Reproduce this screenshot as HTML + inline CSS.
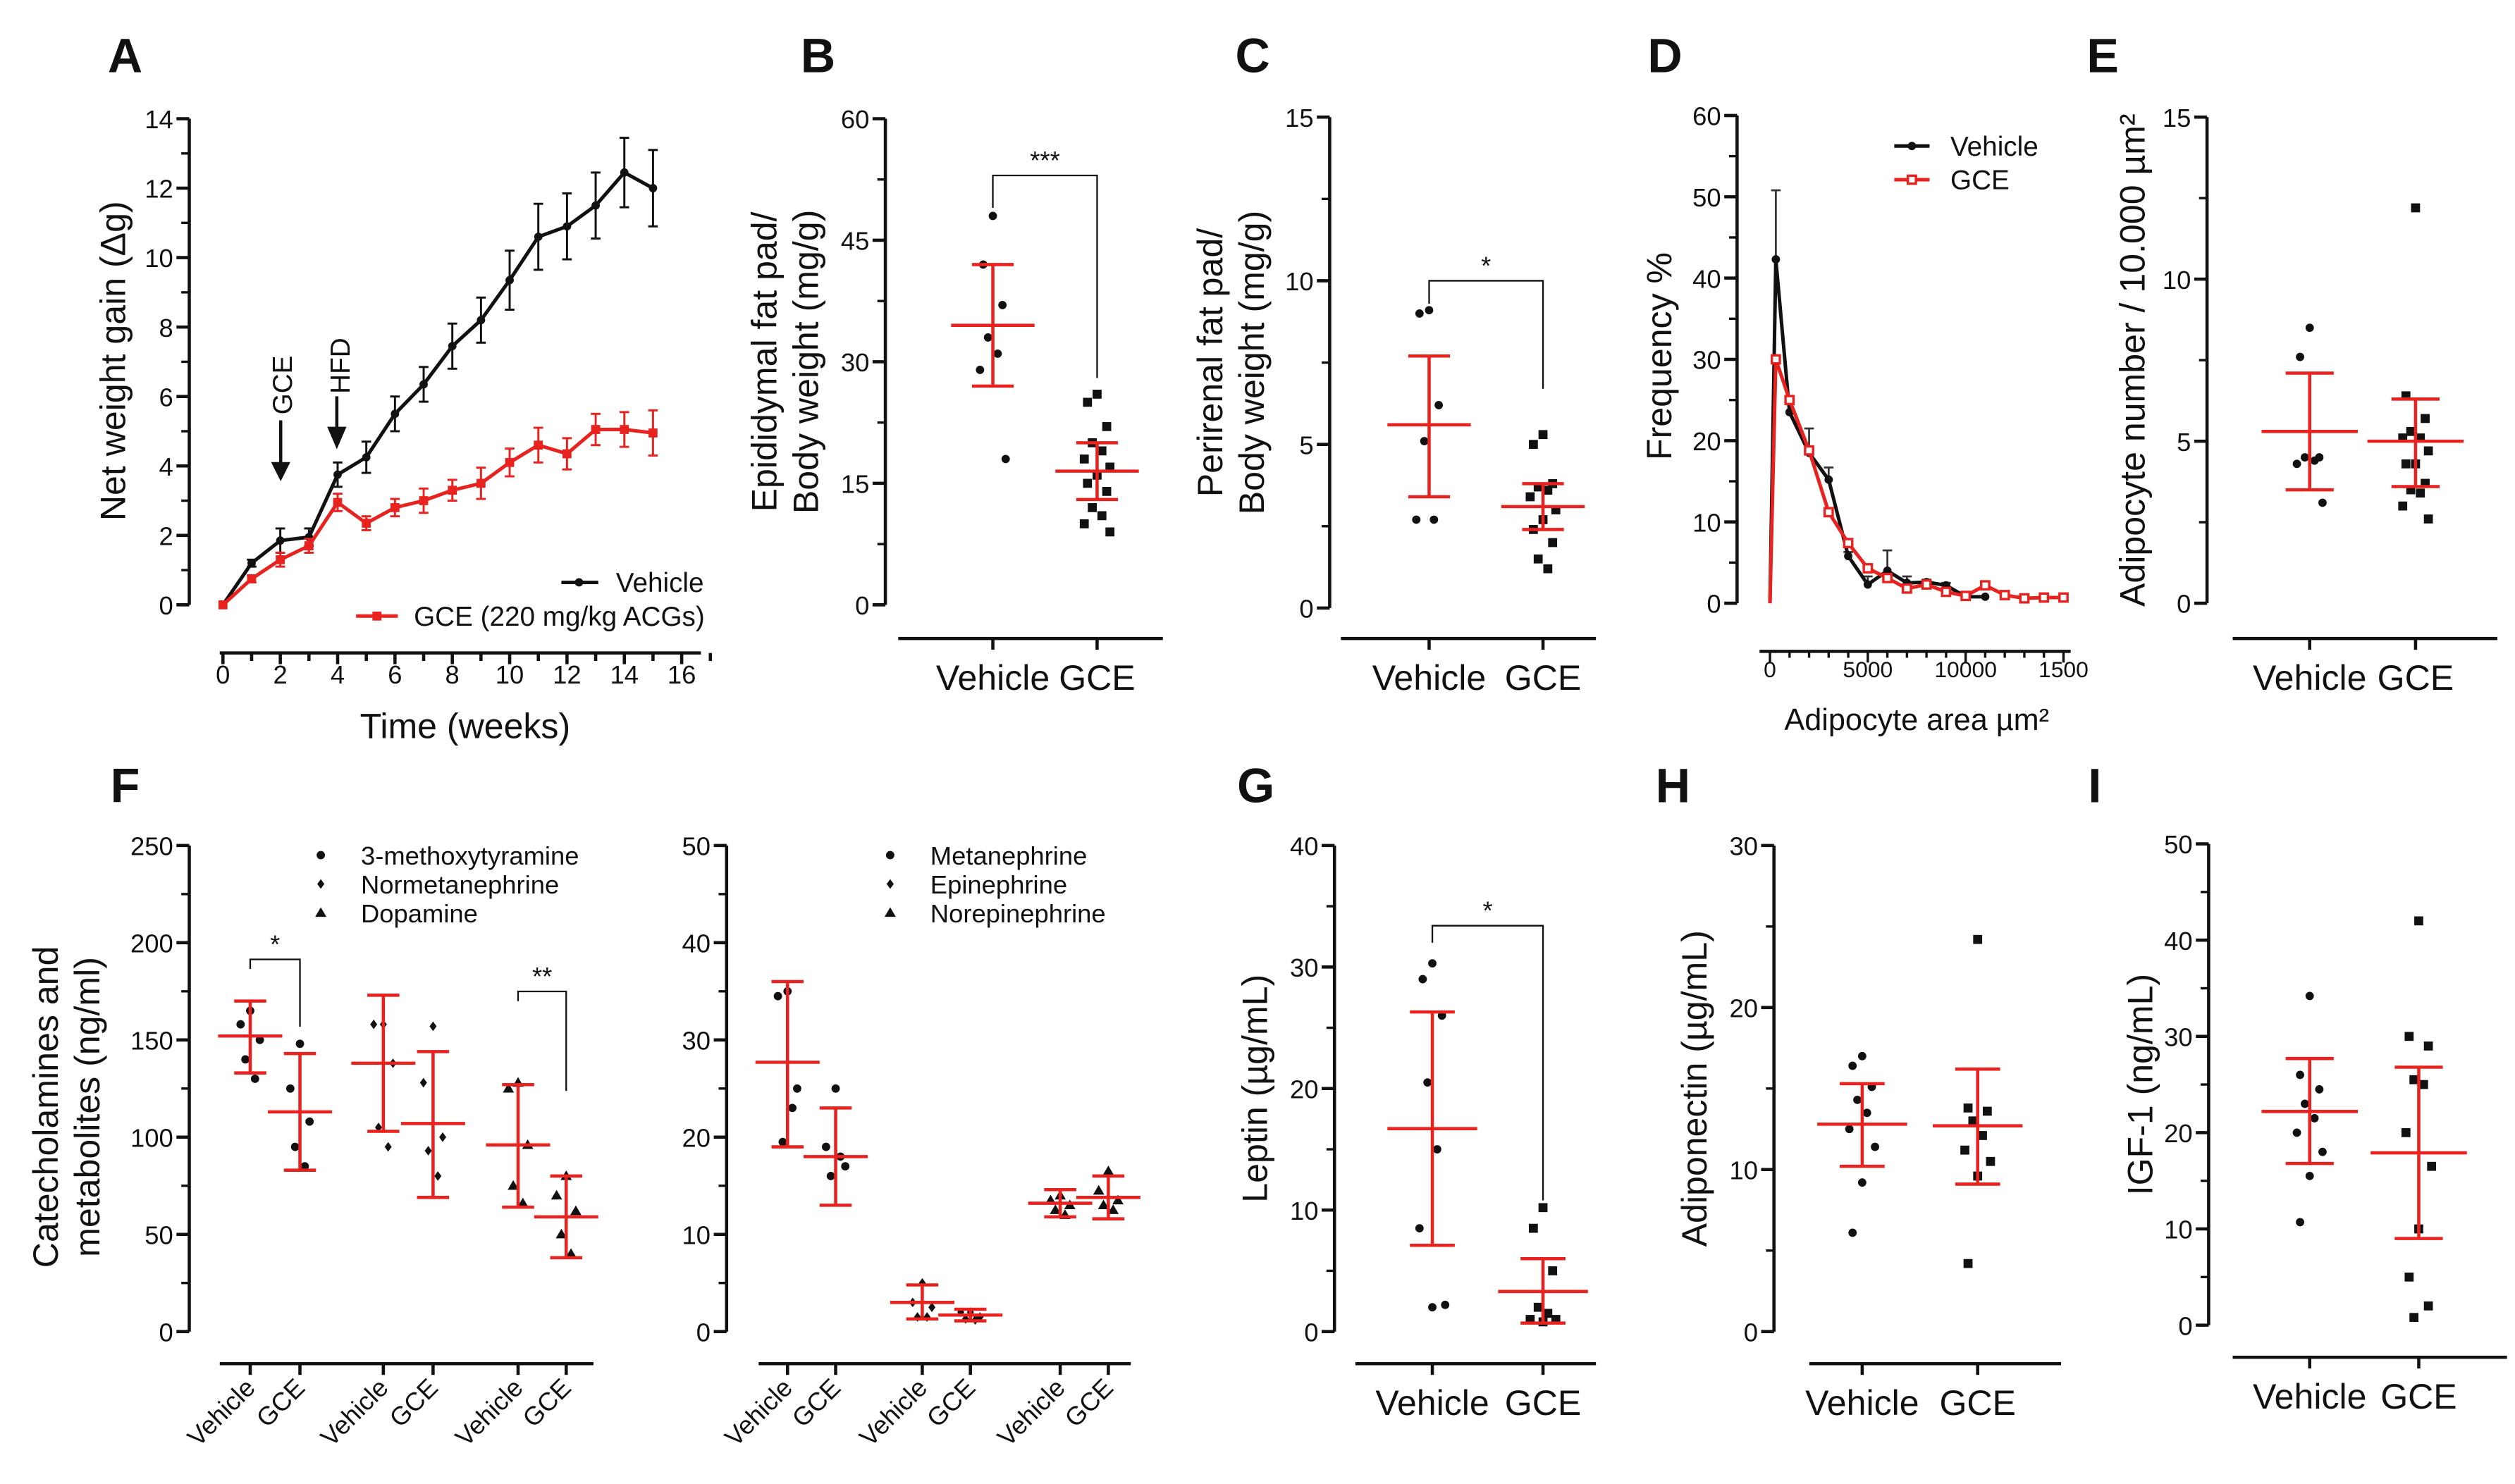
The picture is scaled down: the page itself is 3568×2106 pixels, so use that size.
<!DOCTYPE html>
<html><head><meta charset="utf-8"><style>
html,body{margin:0;padding:0;background:#fff}
svg{display:block}
text{font-family:"Liberation Sans",sans-serif;fill:#111}
</style></head><body>
<svg id="fig" width="3568" height="2106" viewBox="0 0 1568 925" preserveAspectRatio="none" xmlns="http://www.w3.org/2000/svg"></svg>
<script>
// ---------- DATA ----------
const aWeeks=[0,1,2,3,4,5,6,7,8,9,10,11,12,13,14,15];
const aVehicle=[0,1.2,1.85,1.95,3.75,4.25,5.5,6.35,7.45,8.2,9.35,10.6,10.9,11.5,12.45,12.0];
const aVehicleErr=[0,0.1,0.35,0.25,0.35,0.45,0.5,0.5,0.65,0.65,0.85,0.95,0.95,0.95,1.0,1.1];
const aGce=[0,0.75,1.3,1.7,2.95,2.35,2.8,3.0,3.3,3.5,4.1,4.6,4.35,5.05,5.05,4.95];
const aGceErr=[0,0.1,0.2,0.2,0.25,0.2,0.25,0.35,0.3,0.45,0.4,0.5,0.45,0.45,0.5,0.65];
const aYTicks=[0,2,4,6,8,10,12,14];
const aXTicks=[0,2,4,6,8,10,12,14,16];

const bVehiclePts=[48,42,37,33,31,29,18];
const bGcePts=[26,25,22,20,19,18,17,16,15,14,12,11,10,9];
const bMeans=[34.5,16.5];
const bSdHi=[42,20];
const bSdLo=[27,13];

const cVehiclePts=[9.1,9.0,6.2,5.1,2.7,2.7];
const cGcePts=[5.3,5.0,3.8,3.7,3.6,3.4,3.0,2.7,2.4,2.0,1.5,1.2];
const cMeans=[5.6,3.1];
const cSdHi=[7.7,3.8];
const cSdLo=[3.4,2.4];

const dVehArea=[0,300,1000,2000,3000,4000,5000,6000,7000,8000,9000,10000,11000];
const dVehFreq=[0,42.3,23.5,18.5,15.2,5.8,2.3,4.0,2.5,2.6,2.2,0.8,0.8];
const dVehErr=[0,8.5,1,3,1.5,0.5,1,2.5,0.8,0.3,0.3,0,0];
const dGceArea=[0,300,1000,2000,3000,4000,5000,6000,7000,8000,9000,10000,11000,12000,13000,14000,15000];
const dGceFreq=[0,30,25,18.8,11.2,7.4,4.3,3.1,1.8,2.3,1.4,0.9,2.2,1.0,0.6,0.7,0.7];
const dXTickLabels=["0","5000","10000","1500"];

const eVehiclePts=[8.5,7.6,4.5,4.5,4.4,4.3,3.1];
const eGcePts=[12.2,6.4,5.7,5.3,5.1,5.1,4.7,4.3,4.3,3.7,3.5,3.4,3.0,2.6];
const eMeans=[5.3,5.0];
const eSdHi=[7.1,6.3];
const eSdLo=[3.5,3.6];

const fLeftPts=[[165,158,150,140,130],[148,125,108,95,85],[158,158,138,105,95],[157,128,100,93,80],[128,125,96,75,66],[80,70,62,50,40]];
const fLeftMeans=[152,113,138,107,96,59];
const fLeftHi=[170,143,173,144,127,80];
const fLeftLo=[133,83,103,69,64,38];
const fRightPts=[[35,34.5,25,19.5,23],[25,19,17,16,18],[5,3,2.5,1.5,1.5],[2,2,1.5,1.3,1.2],[14,13.5,13,12.5,12],[16.5,14.5,13.5,13,12.5]];
const fRightMeans=[27.7,18,3,1.7,13.2,13.8];
const fRightHi=[36,23,4.8,2.3,14.6,16];
const fRightLo=[19,13,1.3,1.1,11.8,11.6];

const gVehiclePts=[30.3,29,26,20.5,15,8.5,2.2,2.0];
const gGcePts=[10.2,8.5,5,2,1.5,1,1,0.8];
const gMeans=[16.7,3.3];
const gSdHi=[26.3,6];
const gSdLo=[7.1,0.7];

const hVehiclePts=[17,16.4,15.1,14.3,13.5,12.5,11.4,9.2,6.1];
const hGcePts=[24.2,13.8,13.6,13.0,12.1,11.2,10.5,9.6,4.2];
const hMeans=[12.8,12.7];
const hSdHi=[15.3,16.2];
const hSdLo=[10.2,9.1];

const iVehiclePts=[34.2,26,24.5,23,21.5,20,18,15.5,10.7];
const iGcePts=[42,30,29,25.5,25,20,16.5,10,5,2,0.8];
const iMeans=[22.2,17.9];
const iSdHi=[27.7,26.8];
const iSdLo=[16.8,9];

// ---------- HELPERS ----------
const NS="http://www.w3.org/2000/svg";
const RED="#e8231f";
const svg=document.getElementById('fig');
function mk(tag,attrs,name,parent){
  const e=document.createElementNS(NS,tag);
  for(const k in attrs)e.setAttribute(k,attrs[k]);
  
  
  (parent||svg).appendChild(e);return e;
}
function txt(x,y,s,size,name,opts,parent){
  opts=opts||{};
  const a={x:x,y:y,'font-size':size,'text-anchor':opts.anchor||'middle'};
  if(opts.weight)a['font-weight']=opts.weight;
  if(opts.rot!==undefined)a.transform='rotate('+opts.rot+' '+x+' '+y+')';
  if(opts.fill)a.style='fill:'+opts.fill;
  const t=mk('text',a,name,parent);t.textContent=s;return t;
}
function line(x1,y1,x2,y2,name,col,w,parent){
  return mk('line',{x1:x1,y1:y1,x2:x2,y2:y2,stroke:col||'#111','stroke-width':w||2},name,parent);
}
function linScale(v0,v1,p0,p1){return v=>p0+(v-v0)/(v1-v0)*(p1-p0);}
function yAxis(g,x,y0,y1,vmax,ticks,minorStep,fs){
  const s=linScale(0,vmax,y0,y1);
  line(x,y0,x,y1,'y-axis-line','#111',2,g);
  for(let v=0;v<=vmax+1e-9;v+=minorStep)line(x-5,s(v),x,s(v),'y-minor-tick','#111',1.5,g);
  ticks.forEach(v=>{line(x-8,s(v),x,s(v),'y-tick','#111',2,g);txt(x-10,s(v)+6,String(v),fs||16,'y-tick-label',{anchor:'end'},g);});
  return s;
}
function marker(g,x,y,shape,col,name){
  col=col||'#111';
  if(shape==='sq')return mk('rect',{x:x-2.8,y:y-2.8,width:5.6,height:5.6,fill:col},name,g);
  if(shape==='tri')return mk('polygon',{points:(x)+','+(y-3.5)+' '+(x-3.5)+','+(y+2.5)+' '+(x+3.5)+','+(y+2.5),fill:col},name,g);
  if(shape==='dia')return mk('polygon',{points:x+','+(y-3)+' '+(x+2.2)+','+y+' '+x+','+(y+3)+' '+(x-2.2)+','+y,fill:col},name,g);
  return mk('circle',{cx:x,cy:y,r:2.6,fill:col},name,g);
}
function jit(i){return [0,-6,6,-3,3,-8,8][i%7];}
function dotGroup(g,s,x,pts,mean,hi,lo,shape,w,name){
  pts.forEach((v,i)=>marker(g,x+jit(i),s(v),shape,'#111',name+'-point'));
  line(x,s(hi),x,s(lo),name+'-sd-line',RED,2,g);
  line(x-w/2,s(mean),x+w/2,s(mean),name+'-mean',RED,2,g);
  line(x-w/4,s(hi),x+w/4,s(hi),name+'-sd-cap-upper',RED,2,g);
  line(x-w/4,s(lo),x+w/4,s(lo),name+'-sd-cap-lower',RED,2,g);
}
function bracket(g,x1,x2,ytop,yl,yr,label){
  mk('polyline',{points:x1+','+yl+' '+x1+','+ytop+' '+x2+','+ytop+' '+x2+','+yr,fill:'none',stroke:'#111','stroke-width':1},'significance-bracket',g);
  txt((x1+x2)/2,ytop-4,label,16,'significance-label',{},g);
}
function twoGroupPanel(cfg){
  const g=mk('g',{},cfg.name);
  txt(cfg.letterX,cfg.letterY,cfg.letter,30,'panel-letter',{weight:'bold'},g);
  const s=yAxis(g,cfg.ax,cfg.y0,cfg.y1,cfg.vmax,cfg.ticks,cfg.minor);
  line(cfg.xl0,cfg.xly,cfg.xl1,cfg.xly,'x-axis-line','#111',2,g);
  [cfg.gx[0],cfg.gx[1]].forEach(x=>line(x,cfg.xly,x,cfg.xly+7,'x-tick','#111',2,g));
  txt(cfg.gx[0],cfg.xly+32,'Vehicle',22,'x-label-vehicle',{},g);
  txt(cfg.gx[1],cfg.xly+32,'GCE',22,'x-label-gce',{},g);
  dotGroup(g,s,cfg.gx[0],cfg.vPts,cfg.means[0],cfg.hi[0],cfg.lo[0],'dot',cfg.w,'vehicle');
  dotGroup(g,s,cfg.gx[1],cfg.gPts,cfg.means[1],cfg.hi[1],cfg.lo[1],'sq',cfg.w,'gce');
  cfg.title.forEach((t,i)=>txt(cfg.tx+i*26,(cfg.y0+cfg.y1)/2,t,22,'y-axis-title',{rot:-90},g));
  if(cfg.sig)bracket(g,cfg.gx[0],cfg.gx[1],s(cfg.sig.v),s(cfg.sig.vl),s(cfg.sig.vr),cfg.sig.label);
  return g;
}

// ---------- PANEL A ----------
(function(){
  const g=mk('g',{},'panel-a');
  txt(78,45,'A',30,'panel-letter',{weight:'bold'},g);
  const sy=yAxis(g,118,377,74,14,aYTicks,1);
  const sx=linScale(0,16,139,425);
  line(137,407,437,407,'x-axis-line','#111',2,g);
  for(let w=0;w<=17;w++)line(sx(w),407,sx(w),w%2?412:414,'x-tick','#111',2,g);
  aXTicks.forEach(w=>txt(sx(w),426,String(w),16,'x-tick-label',{},g));
  txt(290,460,'Time (weeks)',22,'x-axis-title',{},g);
  txt(78,225,'Net weight gain (\u0394g)',22,'y-axis-title',{rot:-90},g);
  function series(vals,errs,col,shape,name){
    const pts=aWeeks.map((w,i)=>sx(w)+','+sy(vals[i])).join(' ');
    mk('polyline',{points:pts,fill:'none',stroke:col,'stroke-width':2.2},name+'-line',g);
    aWeeks.forEach((w,i)=>{
      if(errs[i]>0){line(sx(w),sy(vals[i]+errs[i]),sx(w),sy(vals[i]-errs[i]),name+'-errorbar',col,1.3,g);
        line(sx(w)-3,sy(vals[i]+errs[i]),sx(w)+3,sy(vals[i]+errs[i]),name+'-errcap',col,1.3,g);
        line(sx(w)-3,sy(vals[i]-errs[i]),sx(w)+3,sy(vals[i]-errs[i]),name+'-errcap',col,1.3,g);}
      marker(g,sx(w),sy(vals[i]),shape,col,name+'-point');
    });
  }
  series(aVehicle,aVehicleErr,'#111','dot','vehicle');
  series(aGce,aGceErr,RED,'sq','gce');
  mk('line',{x1:175,y1:262,x2:175,y2:290,stroke:'#111','stroke-width':2},'gce-arrow-shaft',g);
  mk('polygon',{points:'169,288 181,288 175,300',fill:'#111'},'gce-arrow-head',g);
  txt(182,240,'GCE',17,'gce-annotation',{rot:-90},g);
  mk('line',{x1:210,y1:247,x2:210,y2:268,stroke:'#111','stroke-width':2},'hfd-arrow-shaft',g);
  mk('polygon',{points:'204,266 216,266 210,280',fill:'#111'},'hfd-arrow-head',g);
  txt(218,228,'HFD',17,'hfd-annotation',{rot:-90},g);
  line(350,363,373,363,'legend-vehicle-line','#111',2.2,g);marker(g,361,363,'dot','#111','legend-vehicle-marker');
  txt(384,369,'Vehicle',17,'legend-vehicle-label',{anchor:'start'},g);
  line(222,384,248,384,'legend-gce-line',RED,2.2,g);marker(g,235,384,'sq',RED,'legend-gce-marker');
  txt(258,390,'GCE (220 mg/kg ACGs)',17,'legend-gce-label',{anchor:'start'},g);
})();

// ---------- PANELS B, C, E ----------
twoGroupPanel({name:'panel-b',letter:'B',letterX:510,letterY:45,ax:552,y0:377,y1:74,vmax:60,ticks:[0,15,30,45,60],minor:7.5,
  xl0:560,xl1:725,xly:398,gx:[619,684],w:52,vPts:bVehiclePts,gPts:bGcePts,means:bMeans,hi:bSdHi,lo:bSdLo,
  tx:484,title:['Epididymal fat pad/','Body weight (mg/g)'],sig:{v:53,vl:49,vr:28,label:'***'}});
twoGroupPanel({name:'panel-c',letter:'C',letterX:781,letterY:45,ax:829,y0:379,y1:73,vmax:15,ticks:[0,5,10,15],minor:2.5,
  xl0:836,xl1:995,xly:398,gx:[891,962],w:52,vPts:cVehiclePts,gPts:cGcePts,means:cMeans,hi:cSdHi,lo:cSdLo,
  tx:762,title:['Perirenal fat pad/','Body weight  (mg/g)'],sig:{v:10,vl:9.3,vr:6.7,label:'*'}});
twoGroupPanel({name:'panel-e',letter:'E',letterX:1311,letterY:45,ax:1376,y0:376,y1:73,vmax:15,ticks:[0,5,10,15],minor:2.5,
  xl0:1392,xl1:1557,xly:398,gx:[1440,1506],w:60,vPts:eVehiclePts,gPts:eGcePts,means:eMeans,hi:eSdHi,lo:eSdLo,
  tx:1337,title:['Adipocyte number / 10.000 \u00b5m\u00b2']});

// ---------- PANEL D ----------
(function(){
  const g=mk('g',{},'panel-d');
  txt(1038,45,'D',30,'panel-letter',{weight:'bold'},g);
  const sy=yAxis(g,1083,376,72,60,[0,10,20,30,40,50,60],5);
  const sx=linScale(0,15000,1103.5,1286.5);
  line(1097,406,1291,406,'x-axis-line','#111',2,g);
  for(let a=0;a<=15000;a+=1000)line(sx(a),406,sx(a),a%5000?410:413,'x-tick','#111',1.5,g);
  [0,5000,10000,15000].forEach((a,i)=>txt(sx(a),422,dXTickLabels[i],14,'x-tick-label',{},g));
  txt(1195,455,'Adipocyte area \u00b5m\u00b2',19,'x-axis-title',{},g);
  txt(1042,222,'Frequency %',22,'y-axis-title',{rot:-90},g);
  dVehArea.forEach((a,i)=>{if(dVehErr[i]>0){line(sx(a),sy(dVehFreq[i]),sx(a),sy(dVehFreq[i]+dVehErr[i]),'vehicle-errorbar','#333',1.2,g);
    line(sx(a)-3,sy(dVehFreq[i]+dVehErr[i]),sx(a)+3,sy(dVehFreq[i]+dVehErr[i]),'vehicle-errcap','#333',1.2,g);}});
  mk('polyline',{points:dVehArea.map((a,i)=>sx(a)+','+sy(dVehFreq[i])).join(' '),fill:'none',stroke:'#111','stroke-width':2.2},'vehicle-line',g);
  dVehArea.forEach((a,i)=>{if(i>0)marker(g,sx(a),sy(dVehFreq[i]),'dot','#111','vehicle-point');});
  mk('polyline',{points:dGceArea.map((a,i)=>sx(a)+','+sy(dGceFreq[i])).join(' '),fill:'none',stroke:RED,'stroke-width':2.2},'gce-line',g);
  dGceArea.forEach((a,i)=>{if(i>0)mk('rect',{x:sx(a)-2.5,y:sy(dGceFreq[i])-2.5,width:5,height:5,fill:'#fff',stroke:RED,'stroke-width':1.5},'gce-point',g);});
  line(1181,91,1203,91,'legend-vehicle-line','#111',2.2,g);marker(g,1192,91,'dot','#111','legend-vehicle-marker');
  txt(1216,97,'Vehicle',17,'legend-vehicle-label',{anchor:'start'},g);
  line(1181,112,1203,112,'legend-gce-line',RED,2.2,g);
  mk('rect',{x:1189.5,y:109.5,width:5,height:5,fill:'#fff',stroke:RED,'stroke-width':1.5},'legend-gce-marker',g);
  txt(1216,118,'GCE',17,'legend-gce-label',{anchor:'start'},g);
})();

// ---------- PANEL F ----------
function fPanel(name,ax,vmax,ticks,minor,gx,pts,means,hi,lo,legend,legX,xl0,xl1){
  const g=mk('g',{},name);
  const s=yAxis(g,ax,830,527,vmax,ticks,minor);
  line(xl0,850,xl1,850,'x-axis-line','#111',2,g);
  const shapes=['dot','dot','dia','dia','tri','tri'];
  gx.forEach((x,i)=>{
    line(x,850,x,857,'x-tick','#111',2,g);
    txt(x+4,866,i%2?'GCE':'Vehicle',16,'x-label-'+(i%2?'gce':'vehicle'),{anchor:'end',rot:-45},g);
    dotGroup(g,s,x,pts[i],means[i],hi[i],lo[i],shapes[i],40,'group-'+(i+1));
  });
  const ls=['dot','dia','tri'];
  legend.forEach((l,i)=>{marker(g,legX,533+i*18,ls[i],'#111','legend-marker');
    txt(legX+25,539+i*18,l,16,'legend-label',{anchor:'start'},g);});
  return {g:g,s:s};
}
(function(){
  const L=fPanel('panel-f-left',118,250,[0,50,100,150,200,250],25,[156,187,239,270,323,353],fLeftPts,fLeftMeans,fLeftHi,fLeftLo,
    ['3-methoxytyramine','Normetanephrine','Dopamine'],200,137,370);
  txt(78,500,'F',30,'panel-letter',{weight:'bold'},L.g);
  txt(36,690,'Catecholamines and',22,'y-axis-title',{rot:-90},L.g);
  txt(62,690,'metabolites (ng/ml)',22,'y-axis-title',{rot:-90},L.g);
  bracket(L.g,156,187,598,604,640,'*');
  bracket(L.g,323,353,618,624,680,'**');
  fPanel('panel-f-right',453,50,[0,10,20,30,40,50],5,[491,521,575,605,661,691],fRightPts,fRightMeans,fRightHi,fRightLo,
    ['Metanephrine','Epinephrine','Norepinephrine'],555,473,705);
})();

// ---------- PANELS G, H, I ----------
twoGroupPanel({name:'panel-g',letter:'G',letterX:783,letterY:500,ax:832,y0:830,y1:527,vmax:40,ticks:[0,10,20,30,40],minor:5,
  xl0:845,xl1:995,xly:850,gx:[893,962],w:56,vPts:gVehiclePts,gPts:gGcePts,means:gMeans,hi:gSdHi,lo:gSdLo,
  tx:790,title:['Leptin (\u00b5g/mL)'],sig:{v:33.4,vl:32,vr:10.8,label:'*'}});
twoGroupPanel({name:'panel-h',letter:'H',letterX:1043,letterY:500,ax:1106,y0:830,y1:527,vmax:30,ticks:[0,10,20,30],minor:5,
  xl0:1128,xl1:1285,xly:850,gx:[1161,1233],w:56,vPts:hVehiclePts,gPts:hGcePts,means:hMeans,hi:hSdHi,lo:hSdLo,
  tx:1064,title:['Adiponectin  (\u00b5g/mL)']});
twoGroupPanel({name:'panel-i',letter:'I',letterX:1306,letterY:500,ax:1377,y0:826,y1:526,vmax:50,ticks:[0,10,20,30,40,50],minor:5,
  xl0:1392,xl1:1563,xly:846,gx:[1440,1508],w:60,vPts:iVehiclePts,gPts:iGcePts,means:iMeans,hi:iSdHi,lo:iSdLo,
  tx:1342,title:['IGF-1 (ng/mL)']});
</script>
</body></html>
